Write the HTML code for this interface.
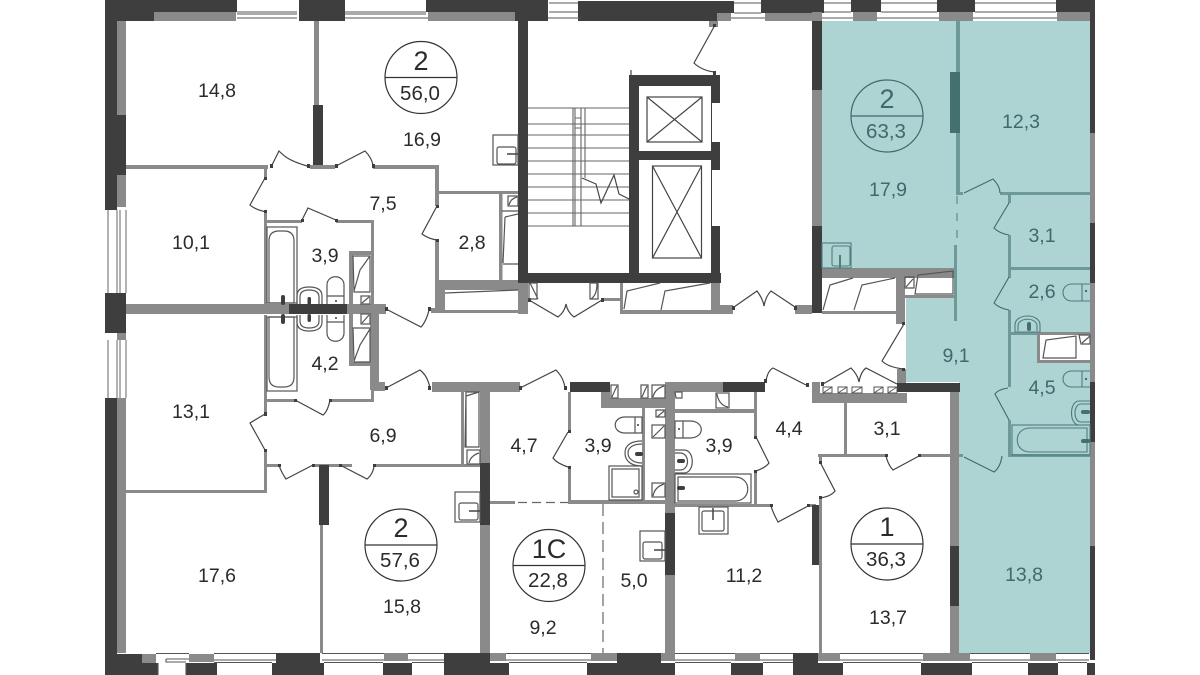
<!DOCTYPE html>
<html><head><meta charset="utf-8"><style>
html,body{margin:0;padding:0;background:#fff;width:1200px;height:675px;overflow:hidden}
svg{display:block}
text{font-family:"Liberation Sans",sans-serif;font-size:19.500px;fill:#2b2b2b;text-anchor:middle}
.d{fill:#3e3e3e}.g{fill:#8a8a8a}.w{fill:#fff}
.tw{fill:#6d9a99}.dw{fill:#44706f}
.l{fill:none;stroke:#444;stroke-width:1.2}
.s{fill:none;stroke:#555;stroke-width:1.200}
.tl{fill:none;stroke:#4f7d7c;stroke-width:1.1}
text.t{fill:#3d6b6a}
.b{font-size:27px}.c{font-size:20.500px}
</style></head><body>
<svg width="1200" height="675" viewBox="0 0 1200 675" xmlns="http://www.w3.org/2000/svg">
<polygon points="822,21 1090,21 1090,653 959,653 959,382 906,382 906,298 955,298 955,268 822,268" fill="#aed3d3"/>

<!-- TOP BAND -->
<rect class="d" x="105" y="0" width="132" height="12"/>
<rect class="d" x="105" y="0" width="49" height="21"/>
<rect class="g" x="154" y="12" width="82" height="9"/>
<rect class="d" x="299" y="0" width="46" height="21"/>
<rect class="d" x="426" y="0" width="89" height="12"/>
<rect class="g" x="428" y="12" width="87" height="9"/>
<rect class="d" x="515" y="0" width="33" height="21"/>
<rect class="d" x="578" y="1" width="156" height="12"/>
<rect class="d" x="578" y="13" width="139" height="8"/>
<rect class="g" x="717" y="13" width="14" height="8"/>
<rect class="g" x="765" y="13" width="47" height="8"/>
<rect class="d" x="761" y="0" width="63" height="13"/>
<rect class="d" x="851" y="0" width="30" height="12"/>
<rect class="d" x="937" y="0" width="38" height="12"/>
<rect class="d" x="1056" y="0" width="39" height="12"/>
<rect class="g" x="812" y="12" width="10" height="9"/>
<rect class="g" x="853" y="12" width="24" height="9"/>
<rect class="g" x="939" y="12" width="34" height="9"/>
<rect class="g" x="1057" y="12" width="33" height="9"/>
<g stroke="#555" stroke-width="1.100">
<path d="M237,12H297M237,18H297M237,14H297M345,12H426M345,14H426M345,18H428M549,3H578M549,12H578M548,18H581M734,3H761M734,13H761M731,18H765M824,3H851M824,12H851M822,18H853M881,3H937M881,12H937M877,18H939M975,3H1056M975,12H1056M973,18H1057"/>
</g>
<!-- LEFT -->
<rect class="d" x="105" y="0" width="12" height="210"/>
<rect class="d" x="117" y="115" width="9" height="60"/>
<rect class="g" x="117" y="21" width="9" height="94"/>
<rect class="g" x="117" y="175" width="9" height="32"/>
<rect class="d" x="105" y="293" width="21" height="40"/>
<rect class="g" x="117" y="333" width="9" height="7"/>
<rect class="d" x="105" y="398" width="12" height="277"/>
<rect class="g" x="117" y="398" width="9" height="255"/>
<g stroke="#666" stroke-width="1" fill="none">
<path d="M108,210V293M117,210V293M120,210V293M126,210V293M108,340V398M117,340V398M120,340V398M126,340V398"/>
</g>
<!-- RIGHT -->
<rect class="d" x="1090" y="0" width="5" height="133"/>
<rect class="g" x="1090" y="133" width="5" height="90"/>
<rect class="d" x="1090" y="223" width="5" height="60"/>
<rect class="g" x="1090" y="283" width="5" height="99"/>
<rect class="d" x="1090" y="382" width="5" height="60"/>
<rect class="g" x="1090" y="442" width="5" height="104"/>
<rect class="d" x="1090" y="546" width="5" height="114"/>
<!-- BOTTOM BAND -->
<rect class="d" x="105" y="654" width="37" height="21"/>
<rect class="g" x="142" y="654" width="14" height="9"/>
<rect class="g" x="189" y="654" width="25" height="8"/>
<rect class="d" x="105" y="663" width="53" height="12"/>
<rect class="d" x="186" y="663" width="31" height="12"/>
<rect class="d" x="276" y="653" width="44" height="22"/>
<rect class="d" x="272" y="663" width="52" height="12"/>
<rect class="g" x="384" y="653" width="24" height="8"/>
<rect class="d" x="383" y="663" width="29" height="12"/>
<rect class="d" x="444" y="653" width="46" height="22"/>
<rect class="g" x="490" y="653" width="16" height="8"/>
<rect class="d" x="480" y="663" width="29" height="12"/>
<rect class="g" x="591" y="653" width="26" height="8"/>
<rect class="d" x="617" y="653" width="44" height="22"/>
<rect class="d" x="587" y="663" width="88" height="12"/>
<rect class="g" x="661" y="653" width="14" height="8"/>
<rect class="g" x="735" y="653" width="25" height="8"/>
<rect class="d" x="731" y="663" width="32" height="12"/>
<rect class="d" x="793" y="653" width="25" height="22"/>
<rect class="d" x="793" y="663" width="50" height="12"/>
<rect class="g" x="818" y="653" width="22" height="8"/>
<rect class="g" x="923" y="653" width="47" height="8"/>
<rect class="d" x="921" y="663" width="51" height="12"/>
<rect class="g" x="1030" y="653" width="26" height="8"/>
<rect class="d" x="1028" y="663" width="30" height="12"/>
<rect class="d" x="1087" y="663" width="8" height="12"/>
<g stroke="#555" stroke-width="1.100" fill="none">
<path d="M156,653.500H189M214,653.500H276M214,660H276M214,662.500H272M322,653.500H384M322,660H384M324,662.500H383M408,653.500H444M408,660H444M412,662.500H444M506,653.500H591M506,660H591M509,662.500H587M675,653.500H735M675,660H735M675,662.500H731M760,653.500H793M760,660H793M763,662.500H793M840,653.500H923M840,660H923M843,662.500H921M970,653.500H1030M970,660H1030M972,662.500H1028M1056,653.500H1089M1056,660H1089M1058,662.500H1087"/>
<path d="M166,659H189M166,659V662H186M158,663V675M186,663V675"/>
</g>

<!-- LEFT APT WALLS UPPER -->
<rect class="g" x="314" y="21" width="5" height="84"/>
<rect class="d" x="313" y="105" width="10" height="60"/>
<rect class="g" x="126" y="165" width="142" height="4"/>
<rect class="g" x="310" y="165" width="25" height="4"/>
<rect class="g" x="373" y="165" width="66" height="4"/>
<rect class="g" x="435" y="165" width="4" height="41"/>
<rect class="g" x="264" y="169" width="3" height="9"/>
<rect class="g" x="264" y="212" width="3" height="93"/>
<rect class="g" x="264" y="220" width="38" height="3"/>
<rect class="g" x="336" y="220" width="38" height="3"/>
<rect class="g" x="371" y="220" width="3" height="85"/>
<rect class="g" x="349" y="251" width="23" height="4"/>
<rect class="g" x="349" y="251" width="4" height="114"/>
<rect class="g" x="438" y="191" width="80" height="3"/>
<rect class="g" x="499" y="194" width="3.500" height="88"/>
<rect class="g" x="435" y="240" width="4" height="70"/>
<rect class="g" x="436" y="280" width="82" height="10"/>
<rect class="g" x="436" y="280" width="9" height="33"/>
<rect class="g" x="436" y="310" width="82" height="3"/>
<rect class="g" x="431" y="308" width="13" height="5"/>
<!-- spine -->
<rect class="g" x="126" y="304" width="163" height="10"/>
<rect class="d" x="289" y="304" width="58" height="10"/>
<rect class="g" x="347" y="304" width="39" height="10"/>
<!-- LOWER LEFT -->
<rect class="g" x="264" y="315" width="3" height="97"/>
<rect class="g" x="264" y="450" width="3" height="43"/>
<rect class="g" x="370" y="314" width="9" height="76"/>
<rect class="g" x="371" y="382" width="14" height="9"/>
<rect class="g" x="371" y="382" width="3" height="20"/>
<rect class="g" x="349" y="362" width="23" height="4"/>
<rect class="g" x="264" y="399" width="31" height="3"/>
<rect class="g" x="330" y="399" width="44" height="3"/>
<rect class="g" x="432" y="382" width="88" height="10"/>
<rect class="g" x="480" y="382" width="10" height="271"/>
<rect class="d" x="480" y="463" width="10" height="62"/>
<rect class="g" x="461" y="392" width="3" height="74"/>
<rect class="g" x="264" y="464" width="15" height="3"/>
<rect class="g" x="312" y="464" width="40" height="3"/>
<rect class="g" x="373" y="464" width="107" height="3"/>
<rect class="g" x="126" y="490" width="141" height="3"/>
<rect class="g" x="320" y="467" width="3" height="186"/>
<rect class="d" x="319" y="465" width="10" height="60"/>
<!-- 1C -->
<rect class="d" x="570" y="382" width="40" height="10"/>
<rect class="g" x="601" y="398" width="64" height="10"/>
<rect class="g" x="601" y="392" width="9" height="10"/>
<rect class="g" x="568" y="392" width="3" height="40"/>
<rect class="g" x="568" y="467" width="3" height="36"/>
<rect class="g" x="568" y="500" width="98" height="4"/>
<rect class="g" x="490" y="501" width="25" height="3"/>
<path d="M518,502.500H568" stroke="#666" stroke-width="1.200" stroke-dasharray="9 5" fill="none"/>
<path d="M603,504V653" stroke="#666" stroke-width="1.200" stroke-dasharray="12 6" fill="none"/>
<rect class="g" x="642" y="408" width="3" height="93"/>
<rect class="g" x="665" y="382" width="10" height="271"/>
<rect class="d" x="665" y="513" width="10" height="62"/>
<rect class="g" x="665" y="382" width="58" height="10"/>
<rect class="d" x="723" y="382" width="42" height="10"/>
<rect class="g" x="754" y="392" width="3" height="45"/>
<rect class="g" x="754" y="470" width="3" height="36"/>
<rect class="g" x="675" y="409" width="81" height="4"/>
<rect class="g" x="675" y="504" width="95" height="3"/>
<rect class="g" x="808" y="504" width="8" height="3"/>
<!-- 1 -->
<rect class="d" x="812" y="505" width="10" height="60"/>
<rect class="g" x="819" y="457" width="3" height="5"/>
<rect class="g" x="819" y="498" width="3" height="155"/>
<rect class="g" x="812" y="382" width="8" height="21"/>
<rect class="g" x="812" y="393" width="95" height="10"/>
<rect class="g" x="897" y="369" width="9" height="14"/>
<rect class="d" x="897" y="383" width="63" height="9"/>
<rect class="g" x="950" y="392" width="9" height="154"/>
<rect class="d" x="950" y="546" width="9" height="60"/>
<rect class="g" x="950" y="606" width="9" height="47"/>
<rect class="g" x="844" y="403" width="3" height="52"/>
<rect class="g" x="818" y="454" width="68" height="3"/>
<rect class="g" x="920" y="454" width="31" height="3"/>

<!-- STAIR CORE -->
<rect class="d" x="518" y="21" width="10" height="262"/>
<rect class="d" x="518" y="273" width="203" height="10"/>
<rect class="d" x="629" y="75" width="91" height="208"/>
<rect class="w" x="639" y="86" width="72" height="65"/>
<rect class="w" x="639" y="160" width="72" height="113"/>
<rect class="w" x="712" y="103" width="8" height="39"/>
<rect class="w" x="712" y="170" width="8" height="56"/>
<g class="l" stroke-width="1.100">
<rect x="647" y="97" width="55" height="45"/><path d="M647,97L702,142M702,97L647,142"/>
<rect x="652.500" y="166" width="49" height="92"/><path d="M652.500,166L701.500,258M701.500,166L652.500,258"/>
</g>
<g stroke="#666" stroke-width="1.100">
<path d="M528,108H629M528,124H629M528,135H629M528,148H629M528,161H629M528,174H629M528,187H629M528,200H629M528,213H629M528,226H629"/>
<path d="M573,108V226M575,108V226M581,108V226M585,108V178M573,108H585M575,118H581M575,124H581M575,128H581"/>
</g>
<polyline class="l" points="582,178 596,184 601,203 614,175 619,194 629,199"/>
<path class="l" d="M715,25L694,63C699,68 708,72 716,72M631,70V75"/>
<rect class="g" x="709" y="21" width="9" height="6"/>
<rect class="d" x="713" y="24" width="3" height="3"/>
<rect class="d" x="713" y="71" width="3" height="4"/>

<!-- CORRIDOR WALLS -->
<rect class="g" x="518" y="283" width="10" height="31"/>
<rect class="g" x="602" y="298" width="18" height="3"/>
<rect class="g" x="620" y="283" width="3" height="31"/>
<rect class="g" x="620" y="310" width="91" height="4"/>
<rect class="g" x="711" y="283" width="9" height="31"/>
<rect class="g" x="711" y="305" width="22" height="9"/>
<rect class="g" x="795" y="305" width="17" height="9"/>
<rect class="d" x="812" y="226" width="10" height="87"/>
<rect class="g" x="812" y="90" width="10" height="136"/>
<rect class="d" x="812" y="21" width="10" height="69"/>

<!-- TEAL APARTMENT -->
<rect class="g" x="822" y="268" width="133" height="10"/>
<rect class="g" x="822" y="311" width="74" height="3"/>
<rect class="g" x="896" y="268" width="9" height="56"/>
<rect class="g" x="905" y="295" width="50" height="3"/>
<rect class="tw" x="956" y="21" width="4" height="172"/>
<rect class="dw" x="950" y="72" width="10" height="61"/>
<rect class="tw" x="956" y="192" width="7" height="3"/>
<rect class="tw" x="1000" y="192" width="90" height="3"/>
<rect class="tw" x="1008" y="195" width="3" height="8"/>
<rect class="tw" x="1008" y="235" width="3" height="43"/>
<rect class="tw" x="1008" y="267" width="82" height="3"/>
<rect class="tw" x="1008" y="310" width="3" height="77"/>
<rect class="tw" x="1008" y="332" width="30" height="3"/>
<rect class="tw" x="1008" y="420" width="3" height="35"/>
<rect class="tw" x="1008" y="454" width="82" height="3"/>
<rect class="tw" x="959" y="454" width="4" height="3"/>
<rect class="tw" x="954" y="245" width="3" height="76"/>
<path d="M957,196V240" stroke="#6d9a99" stroke-width="1.500" stroke-dasharray="8 9" fill="none"/>
<rect class="g" x="1037" y="332" width="53" height="3"/>
<rect class="g" x="1037" y="332" width="3" height="31"/>
<rect class="g" x="1037" y="360" width="53" height="3"/>
<rect class="w" x="1040" y="335" width="50" height="25"/>

<!-- DOORS dark -->
<g class="l">
<path d="M271,167L279,151C283,155 287,160 307,166"/>
<path d="M336,166L365,151C369,155 372,160 373,165"/>
<path d="M265,178L250,205C253,208 258,210 266,212"/>
<path d="M302,220L308,208L336,220"/>
<path d="M437,206L422,234C426,237 430,239 437,240"/>
<path d="M386,309L421,327C425,323 428,315 429,310"/>
<path d="M386,388L420,370C424,373 428,378 430,388"/>
<path d="M295,400L323,415C327,412 329,405 330,400"/>
<path d="M265,414L250,423L265,450"/>
<path d="M279,465C281,472 284,476 286,479L313,465"/>
<path d="M340,465L367,479C371,476 374,470 374,465"/>
<path d="M520,388L556,370C560,374 564,380 565,388"/>
<path d="M568,432L553,458C556,462 562,465 568,467"/>
<path d="M529,300L558,317C562,314 565,310 566,304C567,310 570,314 574,317L602,300"/>
<path d="M734,307L757,291C760,295 763,300 764,306C765,300 767,295 771,291L795,307"/>
<path d="M756,437L769,463C766,467 762,469 756,471"/>
<path d="M771,506C773,513 776,518 778,522L808,506"/>
<path d="M766,381C767,375 769,370 773,368L806,385"/>
<path d="M823,384L851,368C854,371 858,376 859,382C860,376 862,371 866,368L897,384"/>
<path d="M904,324L882,361C887,366 895,368 903,369"/>
<path d="M820,462L835,491C832,495 827,497 820,498"/>
<path d="M886,456C888,464 891,468 893,470L919,456"/>
</g>
<g class="tl" style="stroke:#3d6b6a">
<path d="M964,193L993,179C997,183 1000,188 1000,193"/>
<path d="M1009,203L994,228C998,232 1003,234 1009,235"/>
<path d="M1009,277L994,303C998,307 1003,309 1009,310"/>
<path d="M1008,388C1002,389 997,391 995,394L1009,420"/>
<path d="M964,457L994,472C998,469 1001,463 1002,456"/>
</g>
<g class="d">
<rect x="270" y="164" width="3" height="4"/><rect x="307" y="164" width="3" height="4"/><rect x="335" y="164" width="3" height="4"/><rect x="372" y="164" width="3" height="4"/>
<rect x="264" y="177" width="3" height="3"/><rect x="264" y="210" width="3" height="3"/><rect x="301" y="219" width="3" height="3"/><rect x="335" y="219" width="3" height="3"/><rect x="436" y="205" width="3" height="3"/><rect x="436" y="239" width="3" height="3"/>
<rect x="385" y="307" width="3" height="4"/><rect x="428" y="307" width="3" height="4"/><rect x="385" y="386" width="3" height="4"/><rect x="428" y="386" width="3" height="4"/>
<rect x="294" y="399" width="3" height="3"/><rect x="329" y="399" width="3" height="3"/><rect x="264" y="412" width="3" height="4"/><rect x="264" y="449" width="3" height="3"/>
<rect x="278" y="464" width="3" height="3"/><rect x="312" y="464" width="3" height="3"/><rect x="339" y="464" width="3" height="3"/><rect x="373" y="464" width="3" height="3"/>
<rect x="519" y="386" width="3" height="4"/><rect x="564" y="386" width="3" height="4"/><rect x="568" y="430" width="3" height="3"/><rect x="568" y="466" width="3" height="3"/>
<rect x="528" y="298" width="3" height="4"/><rect x="601" y="298" width="3" height="4"/><rect x="732" y="306" width="3" height="4"/><rect x="794" y="306" width="3" height="4"/>
<rect x="754" y="436" width="3" height="3"/><rect x="754" y="470" width="3" height="3"/><rect x="770" y="504" width="3" height="3"/><rect x="807" y="504" width="3" height="3"/>
<rect x="764" y="379" width="3" height="4"/><rect x="806" y="383" width="3" height="4"/><rect x="821" y="382" width="3" height="4"/><rect x="902" y="368" width="3" height="3"/><rect x="902" y="322" width="3" height="3"/>
<rect x="819" y="461" width="3" height="3"/><rect x="819" y="496" width="3" height="3"/><rect x="885" y="454" width="3" height="3"/><rect x="918" y="454" width="3" height="3"/>
</g>

<!-- CLOSETS -->
<g class="s">
<rect x="508" y="196" width="10" height="10"/><path d="M509,205C510,201 513,198 517,197"/>
<path d="M502,211H518M505,217L518,214M505,217L503,263M503,264H518"/>
<path d="M445,293L518,290"/>
<path d="M353,256H370V292H354ZM354,291L360,270L370,256"/>
<rect x="361" y="296" width="9" height="8"/><path d="M362,303L369,297"/>
<rect x="361" y="314" width="9" height="10"/><path d="M362,323L369,315"/>
<path d="M353,328H370V362H354ZM354,361L360,345L370,329"/>
<path d="M466,392H479V447H465ZM466,447L466,396L479,392"/>
<rect x="467" y="450" width="13" height="14"/><path d="M469,463C470,458 473,455 479,453"/>
<path d="M529,283H537V299H529ZM530,283L538,299"/>
<path d="M590,283H598V299H590ZM597,283C597,292 595,296 591,299"/>
<path d="M624,309L627,291L660,283M661,310L665,291L710,283"/>
<path d="M823,310L830,285L853,278M854,310L862,285L895,278"/>
<path d="M915,294L918,275L953,271V294H915ZM905,277H914V288H905ZM906,287L913,279"/>
<g stroke-width="1">
<rect x="823" y="387" width="9" height="6"/><rect x="838" y="387" width="9" height="6"/><rect x="852" y="387" width="10" height="6"/><rect x="874" y="387" width="9" height="6"/><rect x="888" y="387" width="9" height="6"/>
<path d="M823,393L832,387M838,393L847,387M852,393L862,387M874,393L883,387M888,393L897,387"/>
</g>
<path d="M1043,358L1046,340L1076,336V358H1043ZM1079,335H1090V344H1081ZM1082,343L1090,336"/>
<rect x="611" y="385" width="7" height="13"/><path d="M612,397C614,392 616,388 617,386"/>
<rect x="641" y="385" width="7" height="13"/><path d="M642,397C644,392 646,388 647,386"/>
<rect x="652" y="385" width="13" height="13"/><path d="M653,397C654,392 658,388 664,386"/>
<path d="M656,410H665V417H656ZM657,417L664,411"/>
<rect x="652" y="425" width="13" height="13"/><path d="M653,437L664,426"/>
<rect x="652" y="483" width="13" height="14"/><path d="M653,496C654,490 658,486 664,484"/>
<path d="M675,392L682,392V398H676Z"/>
<rect x="716" y="393" width="13" height="15"/><path d="M717,394C718,401 722,406 728,407"/>
</g>

<!-- FIXTURES LEFT -->
<g class="s">
<rect x="267" y="227" width="30" height="76"/>
<path d="M269,303V241Q269,231 279,231H284Q294,231 294,241V303Z"/>
<rect x="267" y="317" width="30" height="74"/>
<path d="M269,317V377Q269,387 279,387H284Q294,387 294,377V317Z"/>
<path d="M297,304V296Q297,287 309,287Q322,287 322,296V304M300,304V297Q300,290 309,290Q319,290 319,297V304"/>
<path d="M297,315V322Q297,331 309,331Q322,331 322,322V315M300,315V321Q300,328 309,328Q319,328 319,321V315"/>
<path d="M327,304V285C327,274 344,274 344,285V304M327,296H344"/>
<path d="M327,315V333C327,344 344,344 344,333V315M327,322H344"/>
</g>
<rect class="d" x="281" y="295" width="4" height="10" rx="2"/><rect class="d" x="281" y="314" width="4" height="10" rx="2"/><rect class="d" x="307.500" y="297" width="3.500" height="8" rx="1.700"/><rect class="d" x="307.500" y="314" width="3.500" height="8" rx="1.700"/>
<circle class="d" cx="336" cy="301" r="1"/><circle class="d" cx="336" cy="318" r="1"/>
<!-- sinks -->
<g class="s">
<rect x="493" y="135" width="25" height="30"/>
<rect x="497" y="147" width="19" height="17" rx="2"/>
<rect x="455" y="492" width="25" height="30"/>
<rect x="459" y="503" width="19" height="17" rx="2"/>
<rect x="640" y="531" width="25" height="30"/>
<rect x="643" y="542" width="19" height="17" rx="2"/>
<rect x="699" y="507" width="29" height="27"/>
<rect x="702" y="511" width="22" height="20" rx="2"/>
</g>
<g stroke="#444" stroke-width="1.500" fill="none">
<path d="M507,154H518M469,511H480M654,550H665M713,508V520"/>
</g>
<!-- toilet/sink 3,9 left -->
<g class="s">
<path d="M642,417H625C612,417 612,433 625,433H642ZM635,417V433"/>
<path d="M642,441C630,441 625,446 625,453C625,460 630,466 642,466M642,444C634,444 628,447 628,453C628,459 634,463 642,463"/>
<rect x="609" y="466" width="33" height="34"/>
<rect x="612" y="469" width="27" height="28"/>
<circle cx="636" cy="492" r="2"/>
</g>
<g class="s">
<path d="M675,421H690C705,421 705,438 690,438H675ZM683,421V438"/>
<path d="M675,450H684C695,450 695,473 684,473H675M675,453H680C690,453 690,470 680,470H675"/>
<rect x="675" y="474" width="76" height="29"/>
<path d="M678,477H735C752,477 752,501 735,501H678Z"/>
</g>
<rect class="d" x="635" y="452" width="8" height="4" rx="2"/><circle class="d" cx="638" cy="425" r="1"/>
<rect class="d" x="677" y="459" width="8" height="4" rx="2"/><rect class="d" x="677" y="486" width="8" height="4" rx="2"/><circle class="d" cx="679" cy="429" r="1"/>
<!-- TEAL FIXTURES -->
<g class="tl">
<rect x="822" y="243" width="29" height="25"/>
<rect x="832" y="246" width="18" height="20" rx="2"/>
<path d="M840,255V268" stroke-width="2"/>
<path d="M1090,284H1072C1060,284 1060,301 1072,301H1090M1082,284V301"/>
<path d="M1015,332V325C1015,313 1040,313 1040,325V332ZM1018,331V326C1018,317 1037,317 1037,326V331"/>
<path d="M1090,371H1072C1060,371 1060,387 1072,387H1090M1082,371V387"/>
<path d="M1090,401H1079C1069,401 1069,425 1079,425H1090M1090,404H1081C1073,404 1073,422 1081,422H1090"/>
<rect x="1012" y="425" width="78" height="30"/>
<path d="M1087,428H1030C1013,428 1013,452 1030,452H1087Z"/>
</g>
<rect class="dw" x="1027" y="322" width="4" height="9" rx="2"/>
<rect class="dw" x="1081" y="410" width="9" height="4" rx="2"/><rect class="dw" x="1081" y="439" width="9" height="4" rx="2"/>
<circle class="dw" cx="1086" cy="291" r="1.200"/><circle class="dw" cx="1086" cy="379" r="1.200"/>

<!-- CIRCLES -->
<g fill="none" stroke="#333" stroke-width="1.200">
<circle cx="421" cy="77.500" r="36"/><path d="M385,77.500H457"/>
<circle cx="401" cy="545" r="36"/><path d="M365,545H437"/>
<circle cx="549" cy="565.500" r="36"/><path d="M513,565.500H585"/>
<circle cx="887" cy="544" r="36"/><path d="M851,544H923"/>
</g>
<g fill="none" stroke="#3d6b6a" stroke-width="1.200"><circle cx="887" cy="116" r="36"/><path d="M851,116H923"/></g>
<text class="b" x="421" y="70">2</text>
<text class="b" x="401" y="537">2</text>
<text class="b" x="549" y="558">1C</text>
<text class="b" x="887" y="536">1</text>
<text class="b t" x="887" y="108">2</text>
<text class="c" x="420" y="100">56,0</text>
<text class="c" x="400" y="567">57,6</text>
<text class="c" x="548" y="587">22,8</text>
<text class="c" x="886" y="566">36,3</text>
<text class="c t" x="886" y="138">63,3</text>

<!-- LABELS -->
<text x="217" y="97">14,8</text>
<text x="422" y="146">16,9</text>
<text x="383" y="210">7,5</text>
<text x="191" y="249">10,1</text>
<text x="325" y="262">3,9</text>
<text x="472" y="249">2,8</text>
<text x="325" y="370">4,2</text>
<text x="191" y="418">13,1</text>
<text x="383" y="442">6,9</text>
<text x="217" y="582">17,6</text>
<text x="402" y="613">15,8</text>
<text x="524" y="452">4,7</text>
<text x="598" y="452">3,9</text>
<text x="719" y="452">3,9</text>
<text x="789" y="435">4,4</text>
<text x="634" y="587">5,0</text>
<text x="543" y="634">9,2</text>
<text x="744" y="582">11,2</text>
<text x="887" y="435">3,1</text>
<text x="888" y="624">13,7</text>
<text class="t" x="888" y="196">17,9</text>
<text class="t" x="1021" y="128">12,3</text>
<text class="t" x="1042" y="242">3,1</text>
<text class="t" x="1042" y="298">2,6</text>
<text class="t" x="956" y="362">9,1</text>
<text class="t" x="1042" y="394">4,5</text>
<text class="t" x="1024" y="581">13,8</text>
</svg>
</body></html>
